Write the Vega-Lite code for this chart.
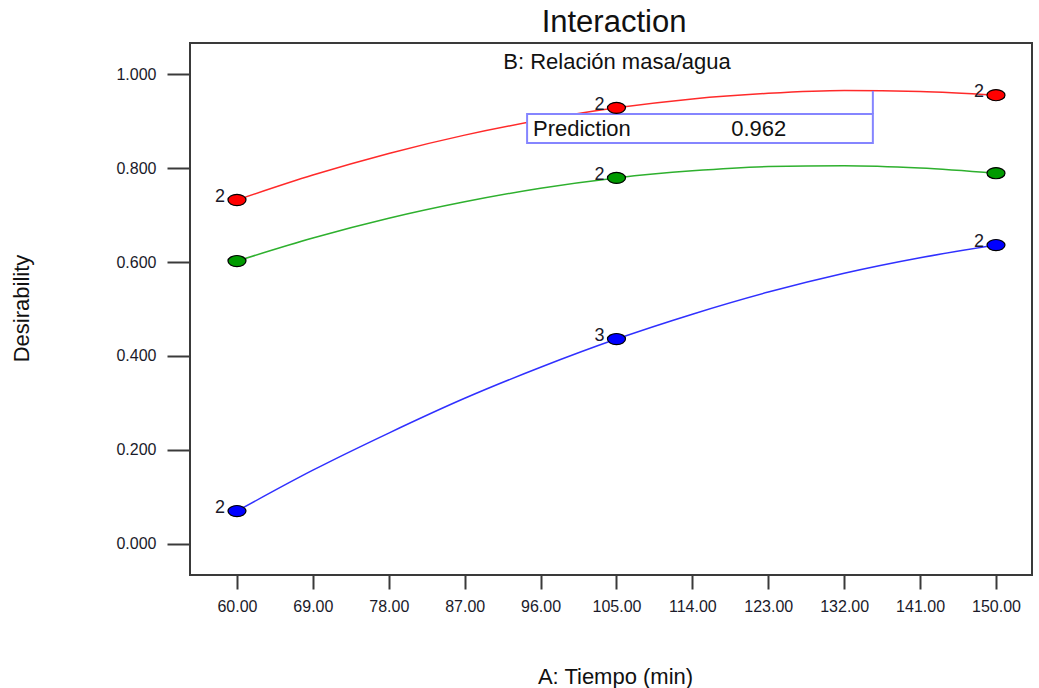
{
  "$schema": "https://vega.github.io/schema/vega-lite/v6.json",
  "width": 842,
  "height": 532,
  "autosize": "none",
  "padding": {"left": 190, "top": 43, "right": 7, "bottom": 113},
  "background": "white",
  "title": {"text": "Interaction", "fontSize": 31, "font": "Liberation Sans", "fontWeight": "normal", "color": "#111", "baseline": "alphabetic", "offset": 10, "anchor": "middle", "dx": 3, "dy": 30},
  "config": {
    "view": {"stroke": "#3a3a3a", "strokeWidth": 2},
    "font": "Liberation Sans",
    "axis": {"grid": false, "domain": false, "tickColor": "#3a3a3a", "tickWidth": 2, "labelFont": "Liberation Sans", "labelFontSize": 16, "labelColor": "#1a1a2a", "titleFont": "Liberation Sans", "titleFontSize": 22, "titleFontWeight": "normal", "titleColor": "#111"}
  },
  "datasets": {
    "curves": [
      {"tiempo": 60, "desirability": 0.732, "serie": "alto"},
      {"tiempo": 69, "desirability": 0.785, "serie": "alto"},
      {"tiempo": 78, "desirability": 0.831, "serie": "alto"},
      {"tiempo": 87, "desirability": 0.870, "serie": "alto"},
      {"tiempo": 96, "desirability": 0.902, "serie": "alto"},
      {"tiempo": 105, "desirability": 0.928, "serie": "alto"},
      {"tiempo": 114, "desirability": 0.947, "serie": "alto"},
      {"tiempo": 123, "desirability": 0.959, "serie": "alto"},
      {"tiempo": 132, "desirability": 0.965, "serie": "alto"},
      {"tiempo": 141, "desirability": 0.963, "serie": "alto"},
      {"tiempo": 150, "desirability": 0.955, "serie": "alto"},
      {"tiempo": 60, "desirability": 0.602, "serie": "medio"},
      {"tiempo": 69, "desirability": 0.651, "serie": "medio"},
      {"tiempo": 78, "desirability": 0.693, "serie": "medio"},
      {"tiempo": 87, "desirability": 0.728, "serie": "medio"},
      {"tiempo": 96, "desirability": 0.757, "serie": "medio"},
      {"tiempo": 105, "desirability": 0.779, "serie": "medio"},
      {"tiempo": 114, "desirability": 0.794, "serie": "medio"},
      {"tiempo": 123, "desirability": 0.803, "serie": "medio"},
      {"tiempo": 132, "desirability": 0.805, "serie": "medio"},
      {"tiempo": 141, "desirability": 0.800, "serie": "medio"},
      {"tiempo": 150, "desirability": 0.789, "serie": "medio"},
      {"tiempo": 60, "desirability": 0.070, "serie": "bajo"},
      {"tiempo": 69, "desirability": 0.157, "serie": "bajo"},
      {"tiempo": 78, "desirability": 0.236, "serie": "bajo"},
      {"tiempo": 87, "desirability": 0.310, "serie": "bajo"},
      {"tiempo": 96, "desirability": 0.376, "serie": "bajo"},
      {"tiempo": 105, "desirability": 0.436, "serie": "bajo"},
      {"tiempo": 114, "desirability": 0.489, "serie": "bajo"},
      {"tiempo": 123, "desirability": 0.536, "serie": "bajo"},
      {"tiempo": 132, "desirability": 0.576, "serie": "bajo"},
      {"tiempo": 141, "desirability": 0.609, "serie": "bajo"},
      {"tiempo": 150, "desirability": 0.636, "serie": "bajo"}
    ],
    "points": [
      {"tiempo": 60, "desirability": 0.732, "serie": "alto", "n": "2"},
      {"tiempo": 105, "desirability": 0.928, "serie": "alto", "n": "2"},
      {"tiempo": 150, "desirability": 0.955, "serie": "alto", "n": "2"},
      {"tiempo": 60, "desirability": 0.602, "serie": "medio", "n": ""},
      {"tiempo": 105, "desirability": 0.779, "serie": "medio", "n": "2"},
      {"tiempo": 150, "desirability": 0.789, "serie": "medio", "n": ""},
      {"tiempo": 60, "desirability": 0.070, "serie": "bajo", "n": "2"},
      {"tiempo": 105, "desirability": 0.436, "serie": "bajo", "n": "3"},
      {"tiempo": 150, "desirability": 0.636, "serie": "bajo", "n": "2"}
    ]
  },
  "encoding": {
    "x": {"field": "tiempo", "type": "quantitative", "scale": {"domain": [54.43, 154.27], "nice": false, "zero": false},
      "axis": {"title": "A: Tiempo (min)", "values": [60, 69, 78, 87, 96, 105, 114, 123, 132, 141, 150], "format": ".2f", "tickSize": 14, "labelPadding": 9, "titleX": 425, "titleY": 108, "titleAlign": "center", "titleBaseline": "alphabetic"}},
    "y": {"field": "desirability", "type": "quantitative", "scale": {"domain": [-0.066, 1.066], "nice": false, "zero": false},
      "axis": {"title": "Desirability", "values": [0, 0.2, 0.4, 0.6, 0.8, 1.0], "format": ".3f", "tickSize": 23, "labelPadding": 11, "titleX": -162, "titleY": 265, "titleAlign": "center", "titleBaseline": "alphabetic", "titleAngle": -90}}
  },
  "layer": [
    {
      "data": {"name": "curves"},
      "mark": {"type": "line", "interpolate": "monotone", "strokeWidth": 1.5},
      "encoding": {
        "stroke": {"field": "serie", "type": "nominal", "scale": {"domain": ["alto", "medio", "bajo"], "range": ["#ff2a2a", "#2eb02e", "#3030ff"]}, "legend": null}
      }
    },
    {
      "data": {"values": [{"x1": 94.4, "x2": 135.4, "y1": 0.853, "y2": 0.915}]},
      "mark": {"type": "rect", "fill": "white", "stroke": "#8585ff", "strokeWidth": 2},
      "encoding": {
        "x": {"field": "x1", "type": "quantitative"},
        "x2": {"field": "x2"},
        "y": {"field": "y1", "type": "quantitative"},
        "y2": {"field": "y2"}
      }
    },
    {
      "data": {"values": [{"x": 135.4, "y1": 0.915, "y2": 0.964}]},
      "mark": {"type": "rule", "stroke": "#8585ff", "strokeWidth": 2},
      "encoding": {
        "x": {"field": "x", "type": "quantitative"},
        "y": {"field": "y1", "type": "quantitative"},
        "y2": {"field": "y2"}
      }
    },
    {
      "data": {"values": [{"x": 95.1, "y": 0.884, "t": "Prediction"}, {"x": 118.6, "y": 0.884, "t": "0.962"}]},
      "mark": {"type": "text", "align": "left", "baseline": "middle", "fontSize": 22, "font": "Liberation Sans", "color": "#111"},
      "encoding": {
        "x": {"field": "x", "type": "quantitative"},
        "y": {"field": "y", "type": "quantitative"},
        "text": {"field": "t"}
      }
    },
    {
      "data": {"values": [{"x": 105.06, "y": 1.0255, "t": "B: Relación masa/agua"}]},
      "mark": {"type": "text", "align": "center", "baseline": "middle", "fontSize": 22, "font": "Liberation Sans", "color": "#111"},
      "encoding": {
        "x": {"field": "x", "type": "quantitative"},
        "y": {"field": "y", "type": "quantitative"},
        "text": {"field": "t"}
      }
    },
    {
      "data": {"name": "points"},
      "transform": [{"filter": "datum.n != ''"}],
      "mark": {"type": "text", "align": "right", "baseline": "middle", "dx": -12, "dy": -3, "fontSize": 18, "font": "Liberation Sans", "color": "#1a1a2a"},
      "encoding": {"text": {"field": "n"}}
    },
    {
      "data": {"name": "points"},
      "mark": {"type": "point", "shape": "M-1,0A1,0.62,0,1,1,1,0A1,0.62,0,1,1,-1,0Z", "size": 324, "filled": true, "stroke": "#000", "strokeWidth": 1.2, "opacity": 1},
      "encoding": {
        "fill": {"field": "serie", "type": "nominal", "scale": {"domain": ["alto", "medio", "bajo"], "range": ["#ff0000", "#009a00", "#0000ff"]}, "legend": null}
      }
    }
  ]
}
